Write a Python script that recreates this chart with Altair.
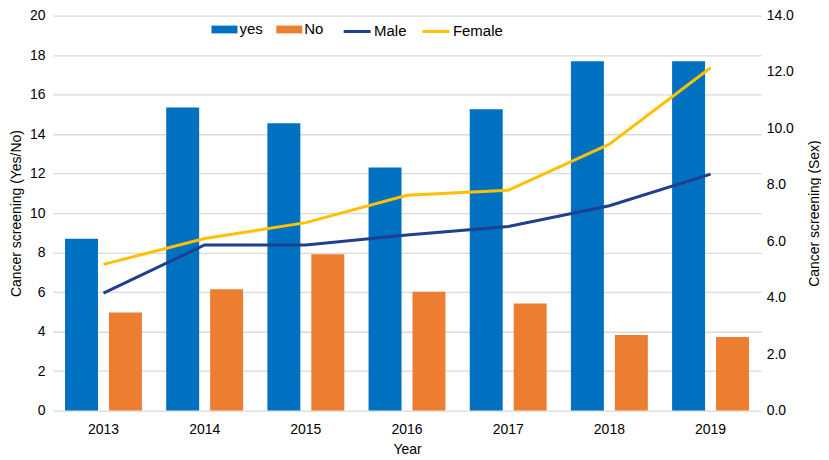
import altair as alt
import pandas as pd

years = ["2013", "2014", "2015", "2016", "2017", "2018", "2019"]
yes_vals = [8.7, 15.34, 14.55, 12.31, 15.25, 17.68, 17.68]
no_vals = [4.96, 6.14, 7.91, 6.01, 5.42, 3.82, 3.72]
male_vals = [4.16, 5.87, 5.87, 6.22, 6.52, 7.26, 8.38]
female_vals = [5.18, 6.1, 6.66, 7.63, 7.81, 9.44, 12.15]

bar_names = ["yes", "No"]
bar_colors = ["#0070C0", "#ED7D31"]
line_names = ["Male", "Female"]
line_colors = ["#1F3F8F", "#FFC000"]

bars_df = pd.DataFrame(
    [{"Year": y, "series": "yes", "value": v} for y, v in zip(years, yes_vals)]
    + [{"Year": y, "series": "No", "value": v} for y, v in zip(years, no_vals)]
)
lines_df = pd.DataFrame(
    [{"Year": y, "sex": "Male", "value": v} for y, v in zip(years, male_vals)]
    + [{"Year": y, "sex": "Female", "value": v} for y, v in zip(years, female_vals)]
)

FONT = "Liberation Sans"

x_enc = alt.X(
    "Year:N",
    sort=years,
    scale=alt.Scale(paddingInner=0.24, paddingOuter=0.12),
    axis=alt.Axis(
        title="Year", labelAngle=0, ticks=False, domain=False, grid=False,
        labelPadding=12, titlePadding=6,
    ),
)

bars = alt.Chart(bars_df).mark_bar().encode(
    x=x_enc,
    xOffset=alt.XOffset("series:N", scale=alt.Scale(domain=bar_names, paddingInner=0.25)),
    y=alt.Y(
        "value:Q",
        scale=alt.Scale(domain=[0, 20]),
        axis=alt.Axis(
            title="Cancer screening (Yes/No)", values=list(range(0, 21, 2)),
            ticks=False, domain=False, labelPadding=8, titlePadding=6,
        ),
    ),
    fill=alt.Fill(
        "series:N",
        scale=alt.Scale(domain=bar_names, range=bar_colors),
        legend=alt.Legend(
            title=None, orient="none", legendX=159, legendY=1, direction="horizontal",
            symbolType="M-1,-0.3L1,-0.3L1,0.3L-1,0.3Z", symbolSize=676,
            symbolStrokeWidth=0, labelOffset=2, columnPadding=13,
        ),
    ),
)

lines = alt.Chart(lines_df).mark_line(strokeWidth=3).encode(
    x=x_enc,
    y=alt.Y(
        "value:Q",
        scale=alt.Scale(domain=[0, 14]),
        axis=alt.Axis(
            title="Cancer screening (Sex)", orient="right", values=list(range(0, 15, 2)),
            format=".1f", ticks=False, domain=False, grid=False,
            labelPadding=5, titlePadding=28, titleAngle=270,
        ),
    ),
    stroke=alt.Stroke(
        "sex:N",
        scale=alt.Scale(domain=line_names, range=line_colors),
        legend=alt.Legend(
            title=None, orient="none", legendX=290, legendY=1, direction="horizontal",
            symbolType="stroke", symbolSize=729, symbolStrokeWidth=3,
            labelOffset=2, columnPadding=9,
        ),
    ),
)

chart = (
    alt.layer(bars, lines)
    .resolve_scale(y="independent", fill="independent", stroke="independent")
    .properties(
        width=710,
        height=396,
        autosize=alt.AutoSizeParams(type="none"),
        padding={"left": 45, "top": 7, "right": 60, "bottom": 45},
    )
    .configure_view(stroke=None)
    .configure_axis(
        labelFont=FONT, titleFont=FONT, labelFontSize=14, titleFontSize=14,
        titleFontWeight="normal", labelColor="#000000", titleColor="#000000",
        gridColor="#D9D9D9", gridWidth=1.3,
    )
    .configure_legend(labelFont=FONT, labelFontSize=15, labelColor="#000000")
)

chart.save("out.html", embed_options={"renderer": "svg", "actions": False})
